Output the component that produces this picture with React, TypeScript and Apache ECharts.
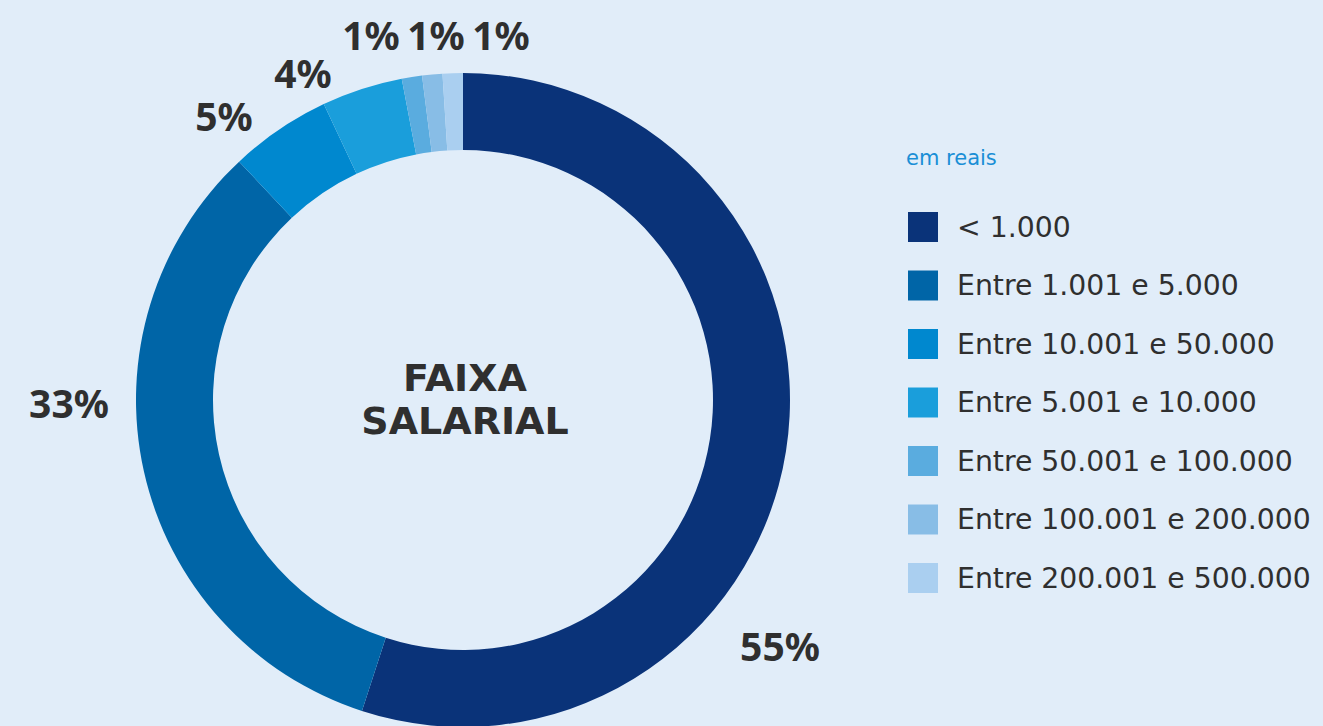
import React, { useEffect, useRef } from "react";
import * as echarts from "echarts";

const categories = [
  "< 1.000",
  "Entre 1.001 e 5.000",
  "Entre 10.001 e 50.000",
  "Entre 5.001 e 10.000",
  "Entre 50.001 e 100.000",
  "Entre 100.001 e 200.000",
  "Entre 200.001 e 500.000",
];
const percentages = [55, 33, 5, 4, 1, 1, 1];
const colors = ["#0a3379", "#0065a7", "#0088cf", "#1a9edb", "#5aacdf", "#88bde6", "#aacff0"];
// label centres (px) relative to pie centre
const labelOffsets = [
  [317, 245],
  [-394, 2],
  [-239, -285],
  [-160, -328],
  [-92, -366],
  [-27, -366],
  [38, -366],
];

const CX = 463;
const CY = 400;
const FONT = "'DejaVu Sans', sans-serif";
const LABEL_FONT = "'Noto Sans', sans-serif";

export default function App() {
  const ref = useRef<HTMLDivElement>(null);
  useEffect(() => {
    document.body.style.margin = "0";
    const chart = echarts.init(ref.current!, undefined, { renderer: "svg" });
    chart.setOption({
      animation: false,
      backgroundColor: "#e1edf9",
      color: colors,
      title: {
        text: "em reais",
        left: 901,
        top: 142,
        textStyle: { color: "#1a8fd6", fontSize: 21, fontWeight: "normal", fontFamily: FONT },
      },
      legend: {
        orient: "vertical",
        left: 903,
        top: 207,
        icon: "rect",
        itemWidth: 30,
        itemHeight: 30,
        itemGap: 28.5,
        data: categories,
        textStyle: {
          color: "#2f2f2f",
          fontSize: 28.3,
          lineHeight: 30,
          fontFamily: FONT,
          padding: [0, 0, 0, 14],
        },
      },
      graphic: [
        {
          type: "text",
          x: CX + 2,
          y: 378,
          style: {
            text: "FAIXA",
            fill: "#2f2f2f",
            font: `bold 38px ${FONT}`,
            textAlign: "center",
            textVerticalAlign: "middle",
          },
        },
        {
          type: "text",
          x: CX + 2,
          y: 421,
          style: {
            text: "SALARIAL",
            fill: "#2f2f2f",
            font: `bold 38px ${FONT}`,
            textAlign: "center",
            textVerticalAlign: "middle",
          },
        },
      ],
      series: [
        {
          type: "pie",
          center: [CX, CY],
          radius: [250, 327],
          startAngle: 90,
          clockwise: true,
          silent: true,
          itemStyle: { borderWidth: 0 },
          data: categories.map((name, i) => ({ name, value: percentages[i] })),
          label: {
            show: true,
            position: "outside",
            formatter: "{c}%",
            color: "#2f2f2f",
            fontSize: 39,
            fontWeight: "bold",
            fontFamily: LABEL_FONT,
            overflow: "none",
            width: 120,
          },
          labelLine: { show: false },
          labelLayout: (p: any) => ({
            x: CX + labelOffsets[p.dataIndex][0],
            y: CY + labelOffsets[p.dataIndex][1],
            align: "center",
            verticalAlign: "middle",
          }),
        },
      ],
    });
    return () => chart.dispose();
  }, []);
  return <div ref={ref} style={{ width: 1323, height: 726 }} />;
}
